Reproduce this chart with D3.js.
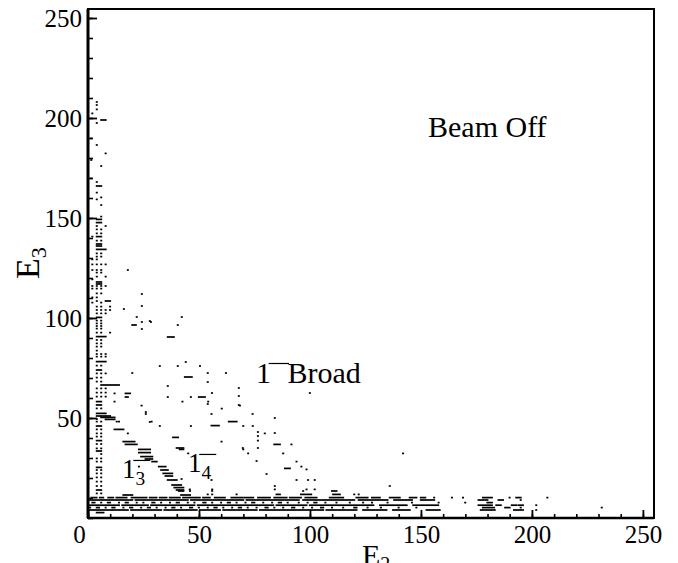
<!DOCTYPE html>
<html><head><meta charset="utf-8">
<script src="https://cdn.jsdelivr.net/npm/d3@7"></script>
<style>
body{margin:0;background:#fff;font-family:Liberation Serif, serif;}
</style>
</head><body>
<svg id="c" width="678" height="563" font-family="Liberation Serif" style="font-family: Liberation Serif, Times New Roman, serif"></svg>
<script>
// ---------- DATA (E2, E3 in channel units) ----------
const xMajorTicks = [0, 50, 100, 150, 200, 250];
const yMajorTicks = [50, 100, 150, 200, 250];
const xLabel = "E";
const xLabelSub = "2";
const yLabel = "E";
const yLabelSub = "3";
const title = "Beam Off";

// rows: [E3, [E2 point | [E2start, E2end] run ...]]
const columnHits = [
 [208,[4]],[206.5,[4]],[204.3,[4]],[202.3,[2]],[199,[[6,8]]],[197.5,[4]],[189.8,[1.5]],[186.5,[4]],
 [182.3,[8]],[179,[1.5]],[176,[6]],[169.8,[1.5]],[168,[4]],[166,[[4,6]]],[162.7,[4]],[160.3,[6]],
 [159.3,[4]],[156.5,[6]],[150.7,[6]],[149.3,[[4,6]]],[147.7,[[4,6]]],[146,[4,8]],[144.3,[4,6]],
 [142.3,[4,6]],[140.7,[2,[4,6]]],[138.7,[4,6]],[137,[[4,6]]],[136,[[4,6]]],[134.3,[[4,8]]],
 [132.3,[4,6]],[130.7,[4,6]],[129.3,[2,4]],[126.8,[2,4,6,8]],[124,[2,4,6]],[122.7,[4,6]],
 [120.7,[4,8]],[119.3,[2]],[118,[[4,6]]],[117,[[4,6]]],[116,[2,4,6,8]],[114.7,[2,4,6]],
 [112.3,[4,6]],[110.3,[2,4]],[108.5,[4,[8,10]]],[107.7,[2,6]],[105.7,[4,6,10]],[104,[4,6,8,10]],
 [102.3,[4,6,8]],[100.3,[[4,6]]],[98.7,[4,6]],[97.3,[4,6]],[96,[4,6]],[94.7,[4,6]],[92.7,[4,6,10]],
 [90.7,[[4,8]]],[89,[4,6]],[87.3,[4,6]],[85.7,[4,6]],[83.7,[4]],[82,[4,6,8]],[80.7,[4,6,8]],
 [78.2,[[4,8]]],[76.2,[4,6]],[74,[[4,6]]],[72.3,[4,6,8]],[70.2,[4,6]],[68.2,[4,6]],[66.5,[[6,14]]],
 [64.8,[4,6,8]],[62.7,[4,6,8]],[60.7,[4,6,8]],[58.2,[[4,6]]],[56.5,[[4,6]]],[54.8,[4,6]],
 [52.3,[[4,8]]],[51,[[4,10]]],[49.5,[4]],[48.2,[4,6]],[46,[[4,6]]],[44.3,[4,6]],[42.3,[4,6]],
 [40.7,[4,6]],[38.7,[[4,6]]],[37,[4,6]],[34.8,[4,6]],[33.5,[[4,6]]],[32,[6]],[29.8,[4,6]],
 [28.2,[4,6]],[25.3,[[4,6]]],[24,[4,6]],[22.3,[4,6]],[20.3,[4,6]],[18.2,[4,6]],[16,[4,6]],
 [14,[[4,6]]],[12.3,[4,6]]
];

const band13Hits = [
 [62.3,[12,[17,19]]],[60.5,[[17,18]]],[58.2,[12]],[50.3,[[6,12]]],[49.3,[[8,12]]],[48.2,[13,14]],
 [44.3,[[12,16]]],[42.3,[18]],[38.2,[[16,21]]],[36.8,[[17,22]]],[34.3,[[23,28]]],[32.7,[[23,28]]],
 [30.7,[[24,29]]],[29.5,[[26,29]]],[28.2,[[29,31]]],[25.7,[23,[32,35]]],[24,[[33,36]]],
 [22.3,[[34,38]]],[21,[[35,38]]],[19,[[36,40]]],[16.5,[[38,42]]],[15.2,[[39,43]]],[14,[[40,43]]],
 [11.5,[[16,20],[42,46]]]
];

const scatterHits = [
 [124,[18]],[112,[24.3]],[106,[24.3]],[104.5,[16.2]],[100.5,[22,42.3]],[98.5,[27.9]],[98,[24.3,28.4]],
 [96.5,[[20,21.6],40.5]],[94.5,[24.3]],[90.5,[[36,38.7]]],[78,[44.1]],[76,[32.4,40.5,50.5]],
 [72.5,[20,54,62.2]],[70.5,[[43.7,46.8]]],[68,[54]],[66,[36]],[65,[68]],[62.5,[55.9,100]],[61,[68]],
 [60.5,[36,46.4,[50,52.7]]],[58.2,[42.6,54.2]],[57,[54]],[56.5,[68]],[56.2,[24.2,68.5]],[54.7,[60.3]],
 [53,[26.1]],[52,[26.1,55.7,74.2]],[50,[84.2]],[48.2,[28.7,[63.5,67]]],[48,[27.9]],[46.2,[[55.7,59]]],
 [46,[32.4,46.4,70,74.3]],[43,[76.6]],[42.5,[84.2]],[42.3,[79.7]],[41,[76.6]],[40.3,[[38.4,40.6]]],
 [38.7,[76.6]],[38.2,[60.2]],[36.8,[[84,86.5],91.7]],[35,[[40,43],69.8,76.6]],[34.3,[[41.4,43],70]],
 [32.3,[45.2,72.2,88,142]],[28.5,[76]],[28.2,[94]],[25.7,[96.2]],[24.8,[[88.8,91]]],[24.3,[98.5]],
 [22,[80.5]],[19.5,[42.2]],[19,[55.7,94,99.2,102.2]],[16,[84.2,136]],[14.3,[45.9,56,84.2,98.5,102.2]]
];

const floorRows = [
 [13.5,[[41,43],46,56,97,[110,112]]],
 [11.8,[54,56,67,[85,86.5],[96,100.6],[110.5,113.5],120,122]],
 [10.2,[[1.6,3.9],[5.4,6.9],[9.2,11.4],[12.9,17.4],[19.7,26.4],[27.9,30.9],[32.4,35.4],[36.9,41.4],
        [42.9,50.4],[51.9,54.9],[57.2,61.7],[64.7,69.8],[70.7,74.5],[76.7,82],[84,89.5],[91,96],[98,103],
        [109,115],[121,126],[128,131.5],[136,140.5],[145,148],[150,152],156,164,169,[178,182],190,[193,195],207]],
 [9.0,[[1,20],[21.5,45],[46.5,70],[71.5,95],[97,120],[122,135],[138,146],[150,156],[176,180],[185,187],195]],
 [7.7,[[2,3],6,[9,10],14,[17,18],22,25,[29,30],33,37,[40,41],45,48,[52,53],56,60,[63,64],67,71,[74,75],
       79,83,[86,87],90,95,99,[102,103],107,112,118,124,128,135,146,158,170,[180,182]]],
 [6.4,[[1,14],[15.5,27],[28.5,48],[49.5,83.5],[85,98.5],[100,128.6],[131.6,143.6],[146.6,157.8],
       [176,182],[184,186],[191,193],[194,196],202]],
 [5.2,[1,[4,5],8,[11,12],16,[19,20],24,[27,28],31,35,[38,39],42,[46,47],50,54,[57,58],61,65,[68,69],72,76,
       [80,81],84,88,[92,93],97,101,[105,106],110,115,[120,121],126,132,140,148,[178,183],[188,190],195,231.5]],
 [4.0,[[1,18],[19.5,33],[34.5,49],[50.5,59.5],[61,76],[77.5,106],[107.5,121],[124,134.5],[137.5,145],
       [152.6,158.5],[177,183.3],[192,196],202]],
 [2.7,[[4,7]]]
];

// ---------- CHART ----------
const FONT = "Liberation Serif, Times New Roman, serif";
const svg = d3.select("#c");
const x = d3.scaleLinear().domain([0, 255]).range([88, 654]);
const y = d3.scaleLinear().domain([0, 254.5]).range([518, 9]);

function expand(rows){
  const out = [];
  rows.forEach(([e3, items]) => items.forEach(it => {
    if (Array.isArray(it)) out.push({a: it[0], b: it[1], e3});
    else out.push({a: it, b: it, e3});
  }));
  return out;
}
const hits = [].concat(expand(columnHits), expand(band13Hits), expand(scatterHits), expand(floorRows));

const unit = x(1) - x(0);
svg.append("g").selectAll("rect").data(hits).join("rect")
  .attr("x", d => x(d.a) - unit/2)
  .attr("y", d => y(d.e3) - 0.85)
  .attr("width", d => x(d.b) - x(d.a) + unit*0.9)
  .attr("height", 1.7)
  .attr("fill", "#000");

// axes
const yMinor = d3.range(0, 255, 10);
const xMinor = d3.range(0, 256, 10);
svg.append("g").attr("transform", "translate(88,0)")
  .call(d3.axisLeft(y).tickValues(yMinor).tickSize(-5).tickFormat(""))
  .call(g => g.select(".domain").remove())
  .call(g => g.selectAll("line").attr("stroke-width", 1.6));
svg.append("g").attr("transform", "translate(88,0)")
  .call(d3.axisLeft(y).tickValues(yMajorTicks).tickSize(-9).tickPadding(6))
  .call(g => g.select(".domain").remove())
  .call(g => g.selectAll("line").attr("stroke-width", 1.8))
  .call(g => g.selectAll("text").attr("font-size", 25));
svg.append("g").attr("transform", "translate(0,518)")
  .call(d3.axisBottom(x).tickValues(xMinor).tickSize(-4).tickFormat(""))
  .call(g => g.select(".domain").remove())
  .call(g => g.selectAll("line").attr("stroke-width", 1.6));
svg.append("g").attr("transform", "translate(0,518)")
  .call(d3.axisBottom(x).tickValues(xMajorTicks).tickSize(-8).tickPadding(7))
  .call(g => g.select(".domain").remove())
  .call(g => g.selectAll("line").attr("stroke-width", 1.8))
  .call(g => g.selectAll("text").attr("font-size", 25)
      .attr("dx", d => d === 0 ? -9 : 0));
svg.selectAll("g").attr("font-family", null);

// frame
svg.append("rect").attr("x", x(0)).attr("y", y(254.5))
  .attr("width", x(255) - x(0)).attr("height", y(0) - y(254.5))
  .attr("fill", "none").attr("stroke", "#000").attr("stroke-width", 2);
svg.append("line").attr("x1", x(0)).attr("x2", x(0)).attr("y1", y(254.5)).attr("y2", y(0))
  .attr("stroke", "#000").attr("stroke-width", 3);
svg.append("line").attr("x1", x(0)).attr("x2", x(255)).attr("y1", y(0)).attr("y2", y(0))
  .attr("stroke", "#000").attr("stroke-width", 2.5);

// axis titles
const xt = svg.append("text").attr("x", 362).attr("y", 565).attr("font-size", 30);
xt.append("tspan").text(xLabel);
xt.append("tspan").attr("dy", 6).attr("font-size", 20).text(xLabelSub);

const yt = svg.append("text").attr("transform", "translate(39,279) rotate(-90)").attr("font-size", 34);
yt.append("tspan").text(yLabel);
yt.append("tspan").attr("dy", 7).attr("font-size", 22).text(yLabelSub);

// title
svg.append("text").attr("x", x(153.2)).attr("y", y(190.5)).attr("font-size", 30).text(title);

// 1- labels
function minusLabel(e2, e3, size, sub, broad){
  const px = x(e2), py = y(e3);
  const t = svg.append("text").attr("x", px).attr("y", py).attr("font-size", size);
  t.append("tspan").text("1");
  if (sub) t.append("tspan").attr("dy", size*0.25).attr("font-size", size*0.72).text(sub);
  const lx0 = px + size*0.42, lx1 = px + size*(sub ? 1.05 : 1.1);
  svg.append("line").attr("x1", lx0).attr("x2", lx1).attr("y1", py - size*0.65).attr("y2", py - size*0.65)
     .attr("stroke", "#000").attr("stroke-width", 1.2);
  if (broad) svg.append("text").attr("x", px + size*1.05).attr("y", py).attr("font-size", size).text(broad);
}
minusLabel(75.7, 67.5, 30, null, "Broad");
minusLabel(15.3, 20, 27, "3", null);
minusLabel(45, 23, 27, "4", null);

svg.selectAll("text").attr("font-family", FONT).style("font-family", FONT).attr("fill", "#000");
</script>
</body></html>
